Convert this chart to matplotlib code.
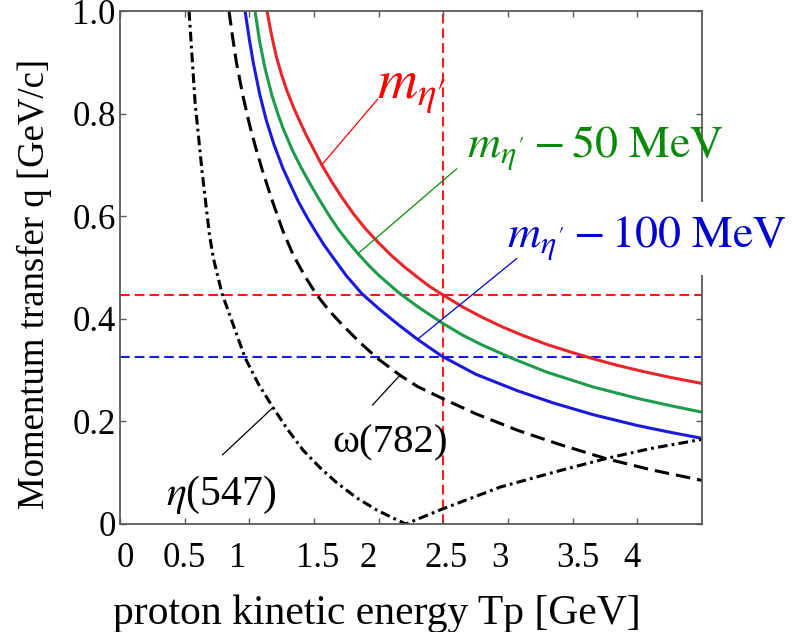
"""
Momentum transfer q vs proton kinetic energy Tp for meson production.

Output: out.png
"""
import matplotlib
matplotlib.use("Agg")
import matplotlib.pyplot as plt

plt.rcParams["font.family"] = ["Liberation Serif", "DejaVu Serif"]
plt.rcParams["mathtext.fontset"] = "stix"
plt.rcParams["lines.scale_dashes"] = False

# ── curves (Tp in GeV, q in GeV/c) ────────────────────────────────────────────
TP_ETAP = [1.137, 1.17, 1.21, 1.25, 1.29, 1.34, 1.39, 1.44, 1.50, 1.56, 1.64,
           1.72, 1.81, 1.90, 2.00, 2.10, 2.20, 2.30, 2.40, 2.50, 2.65, 2.80,
           2.95, 3.10, 3.30, 3.50, 3.66, 3.85, 4.05, 4.25, 4.50]
Q_ETAP = [1.000, 0.955, 0.910, 0.875, 0.845, 0.813, 0.785, 0.758, 0.729,
          0.700, 0.666, 0.635, 0.603, 0.575, 0.548, 0.523, 0.501, 0.481,
          0.462, 0.446, 0.423, 0.403, 0.385, 0.369, 0.350, 0.334, 0.322,
          0.309, 0.297, 0.286, 0.274]

TP_ETAP50 = [1.044, 1.08, 1.12, 1.175, 1.22, 1.26, 1.33, 1.40, 1.47, 1.53,
             1.61, 1.69, 1.77, 1.84, 1.92, 2.00, 2.15, 2.30, 2.49, 2.65, 2.80,
             3.04, 3.30, 3.66, 4.00, 4.25, 4.50]
Q_ETAP50 = [1.000, 0.940, 0.890, 0.835, 0.800, 0.772, 0.730, 0.695, 0.663,
            0.637, 0.604, 0.574, 0.548, 0.527, 0.505, 0.485, 0.452, 0.424,
            0.392, 0.368, 0.349, 0.322, 0.296, 0.267, 0.245, 0.231, 0.218]

TP_ETAP100 = [0.967, 1.00, 1.03, 1.08, 1.13, 1.19, 1.26, 1.32, 1.38, 1.45,
              1.52, 1.58, 1.64, 1.75, 1.87, 2.00, 2.15, 2.30, 2.49, 2.75,
              3.07, 3.35, 3.66, 4.00, 4.25, 4.50]
Q_ETAP100 = [1.000, 0.945, 0.900, 0.838, 0.788, 0.740, 0.693, 0.660, 0.628,
             0.596, 0.567, 0.543, 0.522, 0.484, 0.449, 0.420, 0.389, 0.360,
             0.327, 0.292, 0.260, 0.236, 0.213, 0.192, 0.179, 0.167]

TP_OMEGA = [0.843, 0.87, 0.90, 0.95, 1.00, 1.05, 1.10, 1.18, 1.26, 1.34, 1.43,
            1.52, 1.62, 1.72, 1.85, 1.99, 2.165, 2.30, 2.49, 2.75, 3.07, 3.40,
            3.75, 4.10, 4.50]
Q_OMEGA = [1.000, 0.950, 0.900, 0.835, 0.780, 0.733, 0.690, 0.628, 0.571,
           0.524, 0.483, 0.447, 0.415, 0.388, 0.355, 0.323, 0.290, 0.268,
           0.245, 0.215, 0.183, 0.155, 0.128, 0.106, 0.085]

TP_ETA = [0.534, 0.580, 0.632, 0.691, 0.722, 0.789, 0.967, 1.07, 1.183, 1.30,
          1.415, 1.55, 1.678, 1.83, 1.987, 2.10, 2.21, 2.49, 2.70, 2.94, 3.40,
          3.765, 4.10, 4.50]
Q_ETA = [1.000, 0.823, 0.693, 0.565, 0.518, 0.449, 0.324, 0.273, 0.227, 0.183,
         0.144, 0.109, 0.080, 0.051, 0.027, 0.013, 0.0, 0.029, 0.049, 0.072,
         0.104, 0.128, 0.147, 0.165]

# reference lines: beam energy and q of the eta' / eta'-100 MeV curves there
TP_BEAM = 2.5
Q_REF_RED = 0.447
Q_REF_BLUE = 0.326

XTICKS = [0, 0.5, 1, 1.5, 2, 2.5, 3, 3.5, 4]
XTICK_LABELS = ["0", "0.5", "1", "1.5", "2", "2.5", "3", "3.5", "4"]
XTICK_SHIFT = [0.04, -0.005, -0.087, 0.03, -0.083, 0.02, -0.062, 0.04, -0.04]
YTICKS = [0, 0.2, 0.4, 0.6, 0.8, 1.0]
YTICK_LABELS = ["0", "0.2", "0.4", "0.6", "0.8", "1.0"]

RED, GREEN, BLUE = "#e8262a", "#1e9b4b", "#1a1adc"
RED_TXT, GREEN_TXT, BLUE_TXT = "#ff0000", "#0a8a0a", "#0000d0"
FRAME = "#5a5a5a"

fig = plt.figure(figsize=(7.94, 6.32), dpi=100)
ax = fig.add_axes([120 / 794, 108 / 632, 582 / 794, 513 / 632])

# guide lines
ax.axvline(TP_BEAM, color="#ff1a1a", lw=1.5, dashes=(7, 3.6), zorder=1)
ax.axhline(Q_REF_RED, color="#ff1a1a", lw=1.5, dashes=(7, 3.6), zorder=1)
ax.axhline(Q_REF_BLUE, color="#1a1ae6", lw=1.5, dashes=(7, 3.6), zorder=1)

# kinematic curves
ax.plot(TP_ETAP, Q_ETAP, color=RED, lw=2.2)
ax.plot(TP_ETAP50, Q_ETAP50, color=GREEN, lw=2.2)
ax.plot(TP_ETAP100, Q_ETAP100, color=BLUE, lw=2.2)
ax.plot(TP_OMEGA, Q_OMEGA, color="black", lw=2.2, dashes=(10.5, 5))
ax.plot(TP_ETA, Q_ETA, color="black", lw=2.2, dashes=(7, 3, 2, 3))

# labels with leader lines (leader starts on the curve point given by index)
labels = [
    (TP_ETAP, Q_ETAP, 9, (1.995, 0.829), RED_TXT,
     r"$m_{\eta\prime}$", (1.985, 0.829), 40, None),
    (TP_ETAP50, Q_ETAP50, 13, (2.606, 0.693), GREEN_TXT,
     r"$m_{\eta'} - 50\ \mathrm{MeV}$", (2.683, 0.713), 33, None),
    (TP_ETAP100, Q_ETAP100, 17, (3.07, 0.518), BLUE_TXT,
     r"$m_{\eta'} - 100\ \mathrm{MeV}$", (2.992, 0.538), 33,
     dict(facecolor="white", edgecolor="none", pad=9)),
    (TP_OMEGA, Q_OMEGA, 16, (1.949, 0.231), "black",
     "ω(782)", (1.639, 0.140), 29.5, None),
    (TP_ETA, Q_ETA, 8, (0.789, 0.134), "black",
     r"$\eta$(547)", (0.356, 0.037), 30, None),
]
for xs, ys, i, end, color, text, pos, size, box in labels:
    ax.plot([xs[i], end[0]], [ys[i], end[1]], color=color, lw=0.9,
            zorder=4, solid_capstyle="butt")
    ax.text(pos[0], pos[1], text, color=color, fontsize=size,
            ha="left", va="baseline", bbox=box, zorder=3, clip_on=False)

ax.set_xlim(0, 4.5)
ax.set_ylim(0, 1.0)

ax.set_xticks(XTICKS)
ax.set_xticklabels([])
for t, lab, dx in zip(XTICKS, XTICK_LABELS, XTICK_SHIFT):
    ax.text(t + dx, -0.084, lab, transform=ax.get_xaxis_transform(),
            ha="center", va="baseline", fontsize=25)
ax.set_yticks(YTICKS)
ax.set_yticklabels(YTICK_LABELS, fontsize=25)

ax.tick_params(direction="in", length=4, width=1, color=FRAME,
               top=True, right=True, pad=3)
for sp in ax.spines.values():
    sp.set_color(FRAME)
    sp.set_linewidth(1.3)

ax.set_xlabel("proton kinetic energy Tp [GeV]", fontsize=30, va="top")
ax.xaxis.set_label_coords(0.4416, -0.138)
ax.set_ylabel("Momentum transfer q [GeV/c]", fontsize=26.5)
ax.yaxis.set_label_coords(-0.117, 0.468)

fig.savefig("out.png", dpi=100)
